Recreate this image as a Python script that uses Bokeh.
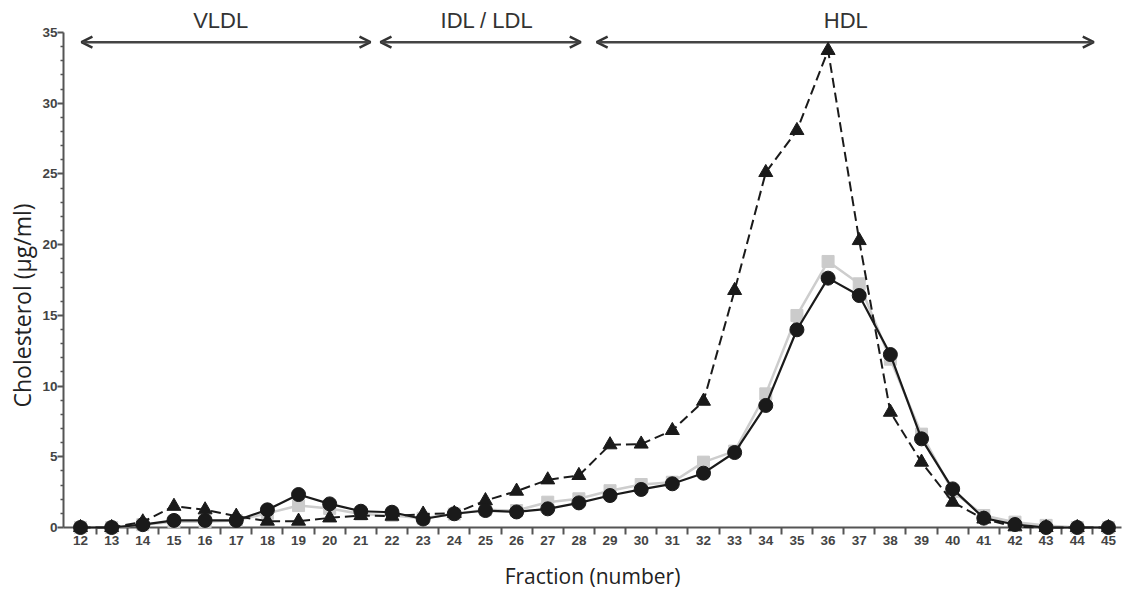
from bokeh.plotting import figure
from bokeh.models import ColumnDataSource, FixedTicker, Arrow, OpenHead, Label, Range1d, Title
from bokeh.embed import file_html
from bokeh.resources import INLINE

fractions = list(range(12, 46))
circles = [0, 0, 0.2, 0.5, 0.5, 0.5, 1.25, 2.33, 1.67, 1.15, 1.08, 0.6, 0.97, 1.2, 1.1,
           1.32, 1.74, 2.26, 2.69, 3.09, 3.84, 5.3, 8.63, 13.98, 17.63, 16.4, 12.23,
           6.27, 2.73, 0.66, 0.21, 0, 0, 0]
squares = [0, 0, 0.2, 0.4, 0.4, 0.5, 1.0, 1.55, 1.35, 0.95, 0.85, 0.65, 0.95, 1.25, 1.2,
           1.79, 2.03, 2.6, 3.04, 3.2, 4.62, 5.4, 9.45, 14.99, 18.81, 17.23, 11.9,
           6.6, 2.55, 0.85, 0.38, 0.15, 0, 0]
triangles = [0, 0, 0.4, 1.5, 1.25, 0.8, 0.45, 0.45, 0.68, 0.85, 0.8, 0.95, 1.0, 1.9, 2.57,
             3.37, 3.68, 5.85, 5.9, 6.86, 8.93, 16.76, 25.1, 28.07, 33.73, 20.29, 8.15,
             4.62, 1.79, 0.6, 0.05, 0, 0, 0]

regions = ["VLDL", "IDL / LDL", "HDL"]
region_starts = [12.03, 21.63, 28.57]
region_ends = [21.31, 28.06, 44.53]
region_label_x = [16.5, 25.05, 36.57]
arrow_y = 34.31
label_y = 35.85

y_title = "Cholesterol (µg/ml)"
x_title = "Fraction (number)"

y_major = [0, 5, 10, 15, 20, 25, 30, 35]
y_minor = [v for v in range(1, 35) if v % 5 != 0]
x_minor = [f + 0.5 for f in range(12, 45)]

src = ColumnDataSource(dict(x=fractions, c=circles, s=squares, t=triangles))

p = figure(width=1122, height=592, output_backend="svg", toolbar_location=None,
           x_range=Range1d(11.454, 45.42), y_range=Range1d(0, 37.26),
           min_border_left=63, min_border_right=1, min_border_top=0, min_border_bottom=65)
p.xgrid.visible = False
p.ygrid.visible = False
p.outline_line_color = None
p.background_fill_color = "white"

ink = "#1a1a1a"
axis_col = "#555555"

# squares series (light gray)
p.line("x", "s", source=src, line_color="#cdcdcd", line_width=2.5, level="overlay")
p.scatter("x", "s", source=src, marker="square", size=12, fill_color="#cbcbcb",
          line_color="#cbcbcb", level="overlay")
# triangles series (dashed)
p.line("x", "t", source=src, line_color=ink, line_width=2, line_dash="10 5", level="overlay")
p.scatter("x", "t", source=src, marker="triangle", size=14, fill_color=ink,
          line_color=ink, level="overlay")
# circles series
p.line("x", "c", source=src, line_color=ink, line_width=2.2, level="overlay")
p.scatter("x", "c", source=src, marker="circle", size=14, fill_color=ink,
          line_color=ink, level="overlay")

# x axis
xa = p.xaxis[0]
xa.ticker = FixedTicker(ticks=fractions, minor_ticks=x_minor)
xa.axis_line_color = axis_col
xa.axis_line_width = 2
xa.major_tick_line_color = None
xa.major_tick_out = 0
xa.major_tick_in = 0
xa.minor_tick_line_color = axis_col
xa.minor_tick_line_width = 2
xa.minor_tick_out = 7
xa.minor_tick_in = 0
xa.major_label_text_font = "Liberation Sans"
xa.major_label_text_font_style = "bold"
xa.major_label_text_font_size = "13.5px"
xa.major_label_text_color = "#444444"
xa.major_label_standoff = 1
xa.axis_label = x_title
xa.axis_label_text_font = "Open Sans"
xa.axis_label_text_font_style = "normal"
xa.axis_label_text_font_size = "21px"
xa.axis_label_text_color = "#222222"
xa.axis_label_standoff = 14

# y axis
ya = p.yaxis[0]
ya.ticker = FixedTicker(ticks=y_major, minor_ticks=y_minor)
ya.bounds = (-0.45, 35)
ya.axis_line_color = axis_col
ya.axis_line_width = 2
ya.major_tick_line_color = axis_col
ya.major_tick_line_width = 2
ya.major_tick_out = 6
ya.major_tick_in = 0
ya.minor_tick_line_color = axis_col
ya.minor_tick_line_width = 1.5
ya.minor_tick_out = 3
ya.minor_tick_in = 0
ya.major_label_text_font = "Liberation Sans"
ya.major_label_text_font_style = "bold"
ya.major_label_text_font_size = "13.5px"
ya.major_label_text_color = "#444444"
ya.major_label_standoff = 0

# y-axis title in the left panel, placed lower than frame centre as in the original
p.add_layout(Title(text=y_title, align="left", offset=120, standoff=4,
                   text_font="Open Sans", text_font_size="23px",
                   text_font_style="normal", text_color="#222222"), "left")

# region arrows and labels
for name, xs, xe, lx in zip(regions, region_starts, region_ends, region_label_x):
    arr = Arrow(x_start=xs, y_start=arrow_y, x_end=xe, y_end=arrow_y,
                line_color="#444444", line_width=2.5,
                start=OpenHead(size=11, line_color="#333333", line_width=2.5),
                end=OpenHead(size=11, line_color="#333333", line_width=2.5))
    p.add_layout(arr)
    p.add_layout(Label(x=lx, y=label_y, text=name, text_align="center",
                       text_baseline="middle", text_font="Liberation Sans",
                       text_font_size="22px", text_color="#333333"))

open("out.html", "w").write(file_html(p, INLINE))
